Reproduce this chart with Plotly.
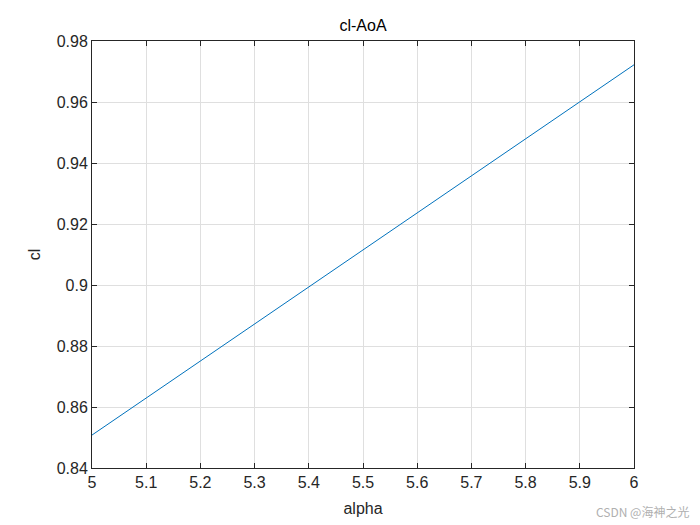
import plotly.graph_objects as go

# data
alpha = [5.0, 5.25, 5.5, 5.75, 6.0]
cl = [0.8508, 0.8812, 0.9115, 0.9419, 0.9722]

x_ticks = [5, 5.1, 5.2, 5.3, 5.4, 5.5, 5.6, 5.7, 5.8, 5.9, 6]
y_ticks = [0.84, 0.86, 0.88, 0.9, 0.92, 0.94, 0.96, 0.98]
y_labels = ["0.84", "0.86", "0.88", "0.9", "0.92", "0.94", "0.96", "0.98"]

FONT = "Liberation Sans, Arial"

fig = go.Figure(go.Scatter(
    x=alpha, y=cl, mode="lines",
    line=dict(color="#0072BD", width=1),
    showlegend=False,
))

axis_common = dict(
    showgrid=True, gridcolor="#dfdfdf", gridwidth=1,
    showline=True, linecolor="#262626", linewidth=1, mirror="ticks",
    ticks="inside", ticklen=5, tickcolor="#262626",
    tickfont=dict(family=FONT, size=16, color="#262626"),
    zeroline=False,
)

fig.update_xaxes(
    range=[5, 6], tickvals=x_ticks, ticktext=[f"{v:g}" for v in x_ticks],
    title=dict(text="alpha", font=dict(family=FONT, size=16, color="#262626"), standoff=12),
    **axis_common,
)
fig.update_yaxes(
    range=[0.84, 0.98], tickvals=y_ticks, ticktext=y_labels,
    title=dict(text="cl", font=dict(family=FONT, size=16, color="#262626"), standoff=12),
    **axis_common,
)

fig.update_layout(
    width=700, height=525,
    margin=dict(l=84, r=74, t=33, b=65),
    paper_bgcolor="white", plot_bgcolor="white",
    title=dict(text="cl-AoA", x=(362 - 7) / 700, xanchor="center", y=1 - (17 / 525), yanchor="middle",
               font=dict(family=FONT, size=16, color="#000000")),
)

fig.add_annotation(
    text="CSDN @海神之光", xref="paper", yref="paper",
    x=1.105, y=-0.103, xanchor="right", yanchor="middle", showarrow=False,
    font=dict(family="Noto Sans CJK SC", size=12, color="#b0b0b0"),
)

fig.write_html("out.html")
